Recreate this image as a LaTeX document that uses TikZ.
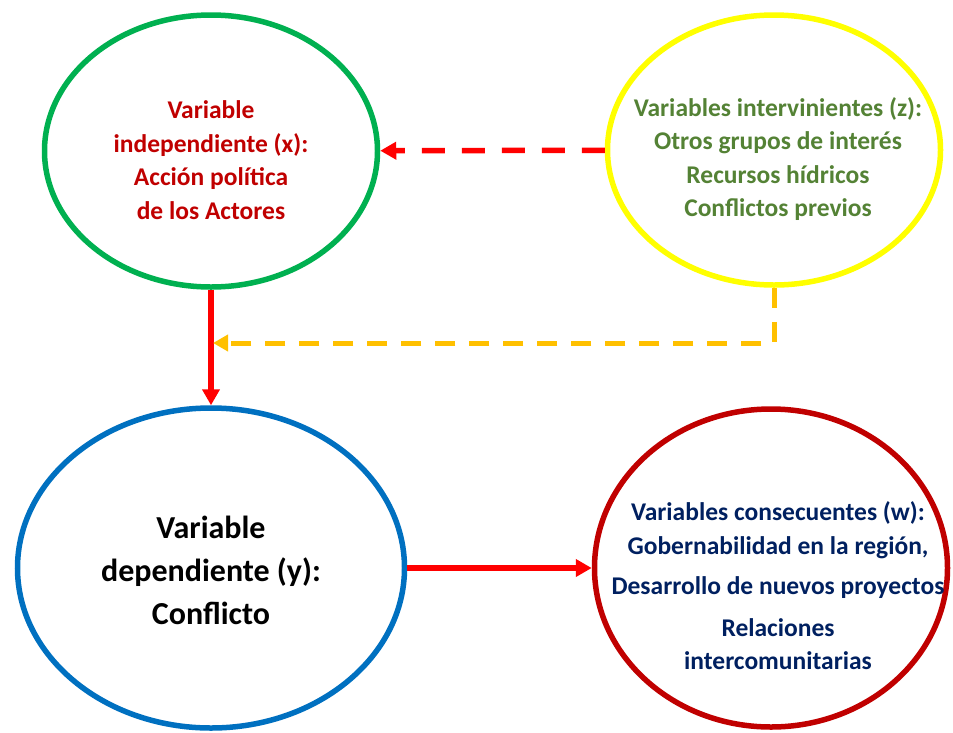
\documentclass[tikz,border=0pt]{standalone}
\usepackage{fontspec}
\setmainfont{Carlito}
\usetikzlibrary{shapes.geometric,arrows.meta}

\definecolor{vgreen}{HTML}{00B050}
\definecolor{vyellow}{HTML}{FFFF00}
\definecolor{vblue}{HTML}{0070C0}
\definecolor{vdarkred}{HTML}{C00000}
\definecolor{vred}{HTML}{FF0000}
\definecolor{vorange}{HTML}{FFC000}
\definecolor{volive}{HTML}{548235}
\definecolor{vnavy}{HTML}{002060}

\begin{document}
\begin{tikzpicture}[x=1pt, y=-1pt,
  varellipse/.style={ellipse, line width=5.5pt, inner sep=0pt},
  vartext/.style={align=center, font=\fontsize{25.5}{33.5}\selectfont\bfseries},
  solidarrow/.style={vred, line width=5.5pt, -{Triangle[length=16pt,width=17pt]}},
  redlink/.style={vred, line width=5.5pt, dash pattern=on 23pt off 17pt,
    -{Triangle[length=16pt,width=17pt]}},
  orangelink/.style={vorange, line width=5pt, dash pattern=on 20pt off 14pt,
    -{Triangle[length=15pt,width=16pt]}}]
\useasboundingbox (0, 0) rectangle (953, 732);
\node[varellipse, draw=vgreen, minimum width=333pt, minimum height=272pt] (x) at (211, 151) {};
\node[varellipse, draw=vyellow, minimum width=333pt, minimum height=270pt] (z) at (774, 150) {};
\node[varellipse, draw=vblue, minimum width=387pt, minimum height=320pt] (y) at (211, 568) {};
\node[varellipse, draw=vdarkred, minimum width=353pt, minimum height=318pt] (w) at (771, 568) {};
\node[vartext, text=vdarkred] (xtext) at (211, 160) {Variable\\independiente (x):\\Acción política\\de los Actores};
\node[vartext, text=volive] (ztext) at (778, 159) {Variables intervinientes (z):\\Otros grupos de interés\\Recursos hídricos\\Conflictos previos};
\node[vartext, text=black, font=\fontsize{32}{43}\selectfont\bfseries] (ytext) at (211, 570) {Variable\\dependiente (y):\\Conflicto};
\node[vartext, text=vnavy] (wtext) at (778, 586) {Variables consecuentes (w):\\Gobernabilidad en la región,\\[7pt]Desarrollo de nuevos proyectos\\[8pt]Relaciones\\intercomunitarias};
\coordinate (zend) at (213, 343);
\draw[redlink] (z) -- (x);
\draw[solidarrow] (x) -- (y);
\draw[solidarrow] (y) -- (w);
\draw[orangelink] (z.south) |- (zend);
\end{tikzpicture}
\end{document}
